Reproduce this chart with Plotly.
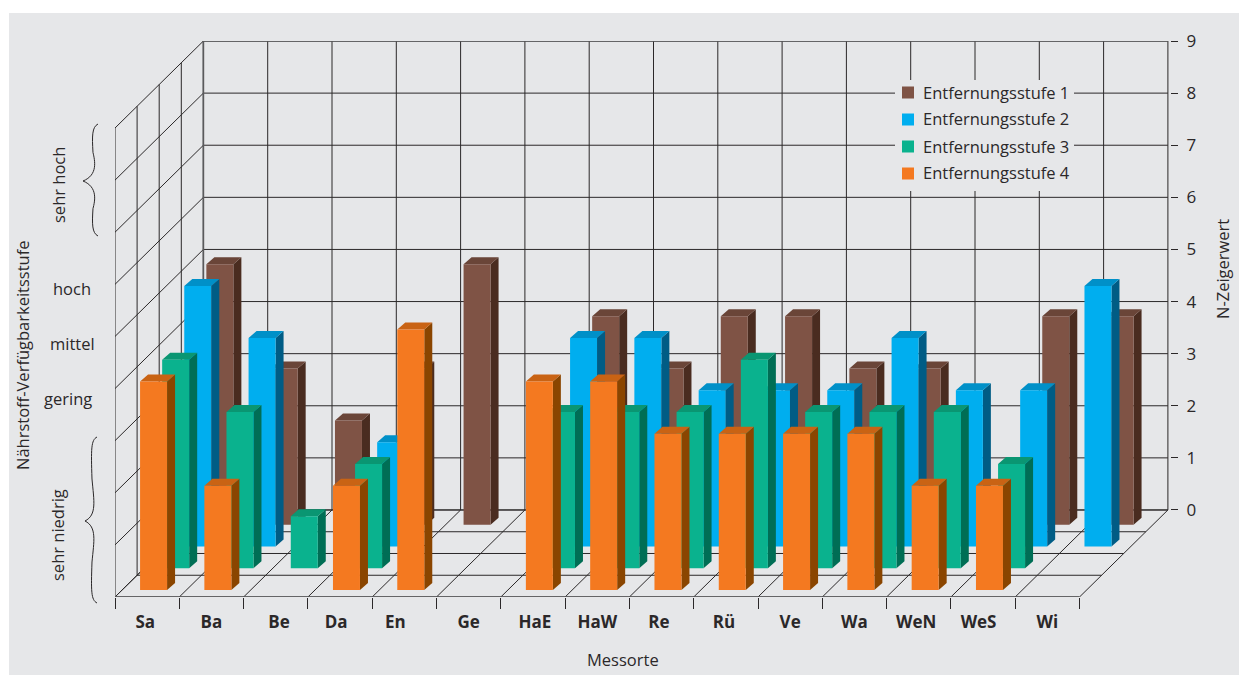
import plotly.graph_objects as go

# Measurement sites and N indicator values per distance level (None = no bar)
sites = ["Sa", "Ba", "Be", "Da", "En", "Ge", "HaE", "HaW", "Re", "Rü", "Ve", "Wa", "WeN", "WeS", "Wi"]
stufe_1 = [5, 3, 2, 3, 5, None, 4, 3, 4, 4, 3, 3, None, 4, 4]
stufe_2 = [5, 4, None, 2, None, None, 4, 4, 3, 3, 3, 4, 3, 3, 5]
stufe_3 = [4, 3, 1, 2, None, None, 3, 3, 3, 4, 3, 3, 3, 2, None]
stufe_4 = [4, 2, None, 2, 5, None, 4, 4, 3, 3, 3, 3, 2, 2, None]
n_ticks = [0, 1, 2, 3, 4, 5, 6, 7, 8, 9]
label_nudge = [-0.03, 0, 0.05, -0.06, -0.14, 0, 0.03, 0, -0.04, -0.03, 0, 0, -0.04, -0.07, 0]

series = [
    ("Entfernungsstufe 1", stufe_1, 3, "#7f5345", "#4a2c20", "#6a4538"),
    ("Entfernungsstufe 2", stufe_2, 2, "#00aeef", "#005c85", "#0090c8"),
    ("Entfernungsstufe 3", stufe_3, 1, "#0ab28e", "#006e55", "#0a9672"),
    ("Entfernungsstufe 4", stufe_4, 0, "#f47920", "#8a4500", "#c96314"),
]

W, H = 1239, 675
LEFT, RIGHT, TOP, BOTTOM = 115, 1170, 41, 597
CELL = 64.3          # pixels per site along the front edge
UNIT = 52.1          # pixels per N unit
SLOT_X, SLOT_Y = 22.1, 21.75   # floor shift per distance level

x_max = (RIGHT - LEFT) / CELL
y_min = -(4 * SLOT_Y) / UNIT
GRID = "#2b2829"
GRID_SOFT = "#5a5a5c"
BG = "#e6e7e9"
FONT = "Open Sans"
TEXT = "#2b2829"


def project(site, value, depth):
    """Oblique projection of (site, value, depth); depth 4 is the back wall."""
    return site + depth * SLOT_X / CELL, value + (depth - 4) * SLOT_Y / UNIT


def line_trace(xs, ys, color=GRID, width=1):
    return go.Scatter(x=xs, y=ys, mode="lines", line=dict(color=color, width=width),
                      hoverinfo="skip", showlegend=False, cliponaxis=False)


def segments(pairs):
    xs, ys = [], []
    for a, b in pairs:
        xs += [a[0], b[0], None]
        ys += [a[1], b[1], None]
    return xs, ys


fig = go.Figure()

# Back wall, left wall and floor grid
n_sites = len(sites)
grid = []
for v in n_ticks:
    grid.append((project(0, v, 4), project(n_sites, v, 4)))
    grid.append((project(0, v, 0), project(0, v, 4)))
for c in range(n_sites + 1):
    grid.append((project(c, 0, 0), project(c, 0, 4)))
    grid.append((project(c, 0, 4), project(c, 9, 4)))
for d in range(5):
    grid.append((project(0, 0, d), project(n_sites, 0, d)))
    grid.append((project(0, 0, d), project(0, 9, d)))
gx, gy = segments(grid)
fig.add_trace(line_trace(gx, gy))

# Heavier edges of the box: top of the back wall, back corner and front floor edge
edges = [
    (project(0, 9, 4), project(n_sites, 9, 4)),
    (project(0, 0, 4), project(0, 9, 4)),
    (project(0, 0, 0), project(n_sites, 0, 0)),
]
ex, ey = segments(edges)
fig.add_trace(line_trace(ex, ey, color=GRID_SOFT, width=1.6))

# Left wall tick marks
tick_dx = 8 / CELL
lx, ly = segments([((-tick_dx, project(0, v, 0)[1]), project(0, v, 0)) for v in n_ticks])
fig.add_trace(line_trace(lx, ly))

# Bars, back row first so that nearer rows overlap the farther ones
BAR_W = 27 / CELL
BAR_OFF = 18 / CELL
D_NEAR = 0.32
SIDE_X, SIDE_Y = 8 / CELL, 7 / UNIT


def polygons(faces):
    xs, ys = [], []
    for face in faces:
        for px, py in face + [face[0]]:
            xs.append(px)
            ys.append(py)
        xs.append(None)
        ys.append(None)
    return xs, ys


for name, values, row, c_front, c_side, c_top in series:
    front, side, top = [], [], []
    for i, v in enumerate(values):
        if v is None:
            continue
        x0, y0 = project(i + BAR_OFF, 0, row + D_NEAR)
        x1 = x0 + BAR_W
        y1 = y0 + v
        front.append([(x0, y0), (x1, y0), (x1, y1), (x0, y1)])
        side.append([(x1, y0), (x1 + SIDE_X, y0 + SIDE_Y), (x1 + SIDE_X, y1 + SIDE_Y), (x1, y1)])
        top.append([(x0, y1), (x1, y1), (x1 + SIDE_X, y1 + SIDE_Y), (x0 + SIDE_X, y1 + SIDE_Y)])
    for faces, color in ((side, c_side), (top, c_top), (front, c_front)):
        px, py = polygons(faces)
        fig.add_trace(go.Scatter(x=px, y=py, mode="lines", fill="toself", fillcolor=color,
                                 line=dict(width=0, color=color), hoverinfo="skip",
                                 showlegend=False))


def brace_path(x_tip, x_end, y_top, y_mid, y_bot):
    """Curly brace opening to the right, given in page pixels."""
    def p(x, y):
        return f"{x / W:.5f},{1 - y / H:.5f}"
    x_in = x_end - 5
    return (
        f"M {p(x_end, y_top)} "
        f"C {p(x_in - 1, y_top + 3)} {p(x_in - 1, y_top + 12)} {p(x_in, (y_top + y_mid) / 2)} "
        f"C {p(x_in + 2, y_mid - 20)} {p(x_in + 5, y_mid - 6)} {p(x_tip, y_mid)} "
        f"C {p(x_in + 5, y_mid + 6)} {p(x_in + 2, y_mid + 20)} {p(x_in, (y_bot + y_mid) / 2)} "
        f"C {p(x_in - 1, y_bot - 12)} {p(x_in - 1, y_bot - 3)} {p(x_end, y_bot)}"
    )


def page_rect(x0, y0, x1, y1, color, layer="above"):
    return dict(type="rect", xref="paper", yref="paper", x0=x0 / W, x1=x1 / W,
                y0=1 - y1 / H, y1=1 - y0 / H, fillcolor=color, line=dict(width=0), layer=layer)


shapes = [
    page_rect(9, 13, W, H, BG, layer="below"),
    dict(type="path", xref="paper", yref="paper", path=brace_path(83, 98, 124, 181, 236),
         line=dict(color=TEXT, width=1), layer="above"),
    dict(type="path", xref="paper", yref="paper", path=brace_path(85, 97, 437, 521, 603),
         line=dict(color=TEXT, width=1), layer="above"),
    page_rect(895, 80, 1074, 191, BG),
]


def page_text(text, x, y, angle=0, size=16.5, anchor="center"):
    return dict(text=text, x=x / W, y=1 - y / H, xref="paper", yref="paper", showarrow=False,
                textangle=angle, xanchor=anchor, yanchor="middle",
                font=dict(family=FONT, size=size, color=TEXT))


annotations = [
    page_text("hoch", 72, 288),
    page_text("mittel", 72, 343),
    page_text("gering", 68, 398),
    page_text("sehr hoch", 58, 185, -90),
    page_text("sehr niedrig", 57, 535, -90),
    page_text("Nährstoff-Verfügbarkeitsstufe", 22, 355, -90),
    page_text("N-Zeigerwert", 1222, 269, -90),
    page_text("Messorte", 623, 659),
]

# Key for the four distance levels
for k, (name, values, row, c_front, c_side, c_top) in enumerate(series):
    row_y = 92.5 + 27 * k
    shapes.append(page_rect(902, row_y - 6, 914, row_y + 6, c_front))
    annotations.append(page_text(name, 921, row_y - 0.5, anchor="left"))

fig.update_layout(
    width=W, height=H,
    margin=dict(l=0, r=0, t=0, b=0),
    paper_bgcolor="white",
    plot_bgcolor="rgba(0,0,0,0)",
    shapes=shapes,
    annotations=annotations,
    hovermode=False,
    showlegend=False,
    xaxis=dict(
        domain=[LEFT / W, RIGHT / W], range=[0, x_max], showgrid=False, zeroline=False,
        showline=False, automargin=False, tickmode="array",
        tickvals=[i + 0.5 + n for i, n in enumerate(label_nudge)], ticktext=[f"<b>{s}</b>" for s in sites],
        ticks="", ticklabelstandoff=13,
        tickfont=dict(family=FONT, size=17, color=TEXT),
        minor=dict(ticks="outside", ticklen=11, tickcolor=GRID, tickwidth=1,
                   tickmode="array", tickvals=list(range(n_sites + 1)), showgrid=False),
    ),
    yaxis=dict(
        domain=[1 - BOTTOM / H, 1 - TOP / H], range=[y_min, 9], side="right",
        anchor="x", showgrid=False, zeroline=False, showline=False, automargin=False,
        tickmode="array", tickvals=n_ticks, ticks="outside", ticklen=7,
        tickcolor=GRID, tickwidth=1, ticklabelstandoff=5,
        tickfont=dict(family=FONT, size=17, color=TEXT),
    ),
)

fig.write_html("out.html", config=dict(displayModeBar=False))
